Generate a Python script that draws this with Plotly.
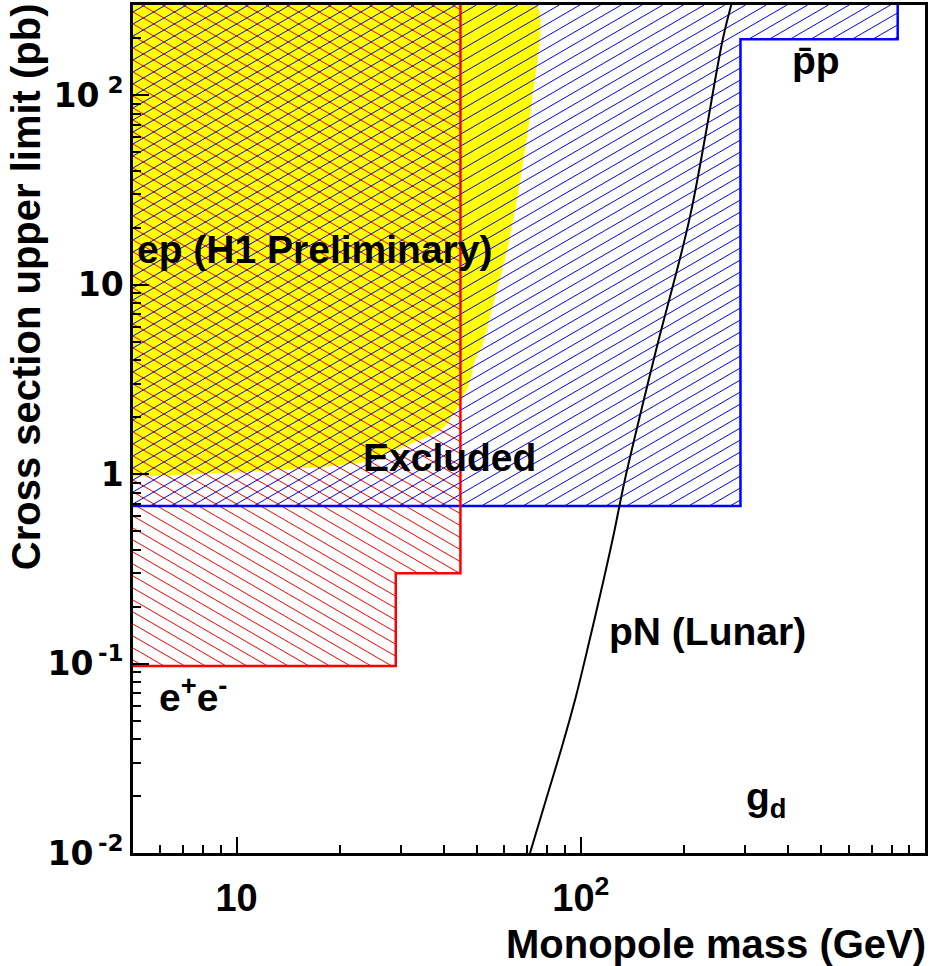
import numpy as np
import plotly.graph_objects as go

# ---- axis extent -------------------------------------------------------
mass_lo, mass_hi = 5.0, 1000.0      # GeV
xsec_lo, xsec_hi = 0.01, 300.0      # pb

# ---- e+e- limit: step function over mass bins ---------------------------
ee_edges = [5.0, 29.0, 44.7]
ee_limit = [0.097, 0.30]

# ---- pbar-p limit: step function over mass bins -------------------------
pp_edges = [5.0, 291.0, 833.0]
pp_limit = [0.68, 198.0]

# ---- H1 ep exclusion boundary (top edge down to the low-mass plateau) --
ep_mass = [74.5, 72.2, 68.9, 65.3, 61.1, 56.1, 51.8, 49.4, 47.5, 44.4,
           40.2, 35.9, 29.4, 23.3, 18.5, 10.9, 5.0]
ep_xsec = [300.0, 95.3, 51.6, 28.2, 15.3, 8.36, 4.83, 4.03, 3.04, 2.33,
           1.78, 1.58, 1.35, 1.16, 1.10, 1.03, 0.97]

# ---- pN (lunar) curve ---------------------------------------------------
lunar_mass = [71.2, 79.7, 88.1, 96.7, 106.1, 116.5, 124.9, 134.3, 165.6,
              207.6, 258.5, 273.5]
lunar_xsec = [0.01, 0.0198, 0.0363, 0.0667, 0.1335, 0.277, 0.491, 0.935,
              4.55, 22.9, 197.7, 300.0]

# ---- tick labels --------------------------------------------------------
x_major = [10, 100]
x_major_text = ["10", "10<sup>2</sup>"]
y_major = [0.01, 0.1, 1, 10, 100]
y_major_text = ["10<sup>\u2009-2</sup>", "10<sup>\u2009-1</sup>", "1", "10",
                "10<sup>\u00a02</sup>"]

# ---- page geometry --------------------------------------------------------
W, H = 930, 966
ML, MR, MT, MB = 133, 2, 5, 113
PW, PH = W - ML - MR, H - MT - MB
LX = (np.log10(mass_lo), np.log10(mass_hi))
LY = (np.log10(xsec_lo), np.log10(xsec_hi))
kx = PW / (LX[1] - LX[0])   # pixels per decade in mass
ky = PH / (LY[1] - LY[0])   # pixels per decade in cross section

FONT = "Liberation Sans, Arial, Helvetica, sans-serif"
WIDE_FONT = "DejaVu Sans, Verdana, sans-serif"


def step_rects(edges, limits):
    """Rectangles (in screen units) covering the region above a step limit."""
    rects = []
    for i, lim in enumerate(limits):
        u0 = (np.log10(edges[i]) - LX[0]) * kx
        u1 = (np.log10(edges[i + 1]) - LX[0]) * kx
        v0 = (np.log10(lim) - LY[0]) * ky
        rects.append((u0, u1, v0, PH))
    return rects


def hatch(edges, limits, angle_deg, spacing):
    """Parallel hatch lines at a fixed screen angle, clipped to the region."""
    s = np.tan(np.radians(angle_deg))
    xs, ys = [], []
    span = abs(s) * PW + PH + spacing
    for c in np.arange(-span, span, spacing):
        for (u0, u1, v0, v1) in step_rects(edges, limits):
            ua, ub = (v0 - c) / s, (v1 - c) / s
            lo, hi = max(u0, min(ua, ub)), min(u1, max(ua, ub))
            if hi > lo:
                for u in (lo, hi):
                    xs.append(10 ** (LX[0] + u / kx))
                    ys.append(10 ** (LY[0] + (s * u + c) / ky))
                xs.append(None)
                ys.append(None)
    return xs, ys


def step_outline(edges, limits, from_right=True):
    xs, ys = [], []
    if from_right:
        xs.append(edges[-1]); ys.append(xsec_hi)
        for i in range(len(limits) - 1, -1, -1):
            xs += [edges[i + 1], edges[i]]
            ys += [limits[i], limits[i]]
    else:
        for i, lim in enumerate(limits):
            xs += [edges[i], edges[i + 1]]
            ys += [lim, lim]
        xs.append(edges[-1]); ys.append(xsec_hi)
    return xs, ys


fig = go.Figure()

# H1 ep excluded region (solid yellow)
fig.add_trace(go.Scatter(
    x=[mass_lo] + ep_mass, y=[xsec_hi] + ep_xsec,
    mode="lines", line=dict(width=0, shape="spline", smoothing=0.5),
    fill="toself", fillcolor="#ffff00", hoverinfo="skip"))

# e+e- hatching
hx, hy = hatch(ee_edges, ee_limit, -30, 12)
fig.add_trace(go.Scatter(x=hx, y=hy, mode="lines",
                         line=dict(color="#ff0000", width=1), hoverinfo="skip"))

# pbar-p hatching
hx, hy = hatch(pp_edges, pp_limit, 30, 12)
fig.add_trace(go.Scatter(x=hx, y=hy, mode="lines",
                         line=dict(color="#0000ff", width=1), hoverinfo="skip"))

# boundaries
ox, oy = step_outline(pp_edges, pp_limit, from_right=False)
fig.add_trace(go.Scatter(x=ox, y=oy, mode="lines",
                         line=dict(color="#0000ff", width=2.5)))
ox, oy = step_outline(ee_edges, ee_limit, from_right=True)
fig.add_trace(go.Scatter(x=ox, y=oy, mode="lines",
                         line=dict(color="#ff0000", width=2.5)))

# lunar pN curve
fig.add_trace(go.Scatter(x=lunar_mass, y=lunar_xsec, mode="lines",
                         line=dict(color="black", width=2, shape="spline",
                                   smoothing=1.0)))

# ---- labels -------------------------------------------------------------
lab = dict(family=FONT, size=39, color="black", weight="bold")
notes = [
    ("ep (H1 Preliminary)", 0.705, 1.184),
    ("Excluded", 1.362, 0.0855),
    ("p\u0304p", 2.607, 2.185),
    ("e<sup>+</sup>e<sup>-</sup>", 0.770, -1.165),
    ("pN (Lunar)", 2.0748, -0.828),
    ("g<sub>d</sub>", 2.4734, -1.72),
]
for txt, lx, ly in notes:
    fig.add_annotation(x=lx, y=ly, xref="x", yref="y", text=txt,
                       showarrow=False, xanchor="left", yanchor="middle",
                       font=lab)

# axis titles (right / top aligned)
fig.add_annotation(text="Monopole mass (GeV)", xref="paper", yref="paper",
                   x=1.004, y=-0.1075, xanchor="right", yanchor="middle",
                   showarrow=False, font=dict(family=FONT, size=40,
                                              color="black", weight="bold"))
fig.add_annotation(text="Cross section upper limit (pb)", xref="paper",
                   yref="paper", x=-0.135, y=1.004, xanchor="center",
                   yanchor="top", textangle=-90, showarrow=False,
                   font=dict(family=FONT, size=40, color="black",
                             weight="bold"))

x_minor = [m * 10 ** d for d in range(0, 3) for m in range(2, 10)
           if mass_lo < m * 10 ** d < mass_hi]
y_minor = [m * 10 ** d for d in range(-2, 3) for m in range(2, 10)
           if xsec_lo < m * 10 ** d < xsec_hi]

fig.update_xaxes(type="log", range=list(LX), tickmode="array",
                 tickvals=x_major, ticktext=x_major_text, ticks="inside",
                 ticklen=16, tickwidth=2, tickcolor="black",
                 showline=True, linewidth=2.5, linecolor="black", mirror=True,
                 showgrid=False, zeroline=False,
                 tickfont=dict(family=FONT, size=38, color="black",
                               weight="bold"),
                 ticklabelstandoff=10,
                 minor=dict(tickmode="array", tickvals=x_minor,
                            ticks="inside", ticklen=8, tickwidth=2,
                            tickcolor="black", showgrid=False))
fig.update_yaxes(type="log", range=list(LY), tickmode="array",
                 tickvals=y_major, ticktext=y_major_text, ticks="inside",
                 ticklen=16, tickwidth=2, tickcolor="black",
                 showline=True, linewidth=2.5, linecolor="black", mirror=True,
                 showgrid=False, zeroline=False,
                 tickfont=dict(family=WIDE_FONT, size=33, color="black",
                               weight="bold"),
                 ticklabelstandoff=0,
                 minor=dict(tickmode="array", tickvals=y_minor,
                            ticks="inside", ticklen=8, tickwidth=2,
                            tickcolor="black", showgrid=False))

fig.update_layout(width=W, height=H, margin=dict(l=ML, r=MR, t=MT, b=MB),
                  plot_bgcolor="white", paper_bgcolor="white",
                  showlegend=False)

fig.write_html("out.html")
